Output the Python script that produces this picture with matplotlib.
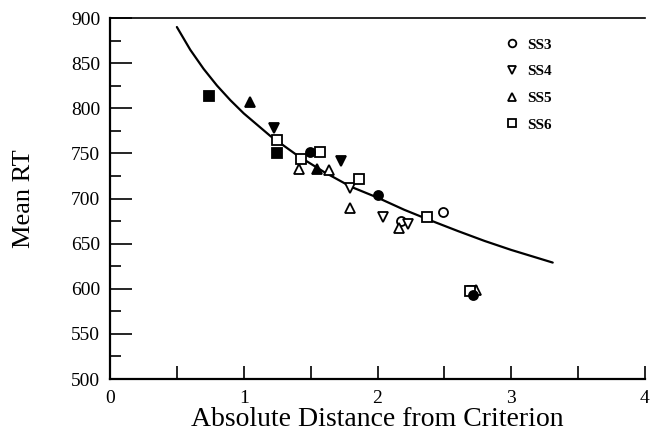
import matplotlib
matplotlib.use("Agg")
import matplotlib.pyplot as plt
from matplotlib.lines import Line2D
from matplotlib.ticker import MultipleLocator

# ---- data ----
ss3_filled_x = [1.495, 2.00, 2.714]
ss3_filled_y = [751, 704, 593]
ss3_open_x = [2.176, 2.487]
ss3_open_y = [675, 685]

ss4_filled_x = [1.224, 1.727]
ss4_filled_y = [778, 741]
ss4_open_x = [1.793, 2.043, 2.228, 2.709]
ss4_open_y = [712, 679, 672, 597]

ss5_filled_x = [1.049, 1.549]
ss5_filled_y = [807, 733]
ss5_open_x = [1.414, 1.636, 1.796, 2.159, 2.739]
ss5_open_y = [733, 732, 689, 667, 599]

ss6_filled_x = [0.74, 1.246]
ss6_filled_y = [814, 750]
ss6_open_x = [1.251, 1.425, 1.567, 1.863, 2.369, 2.689]
ss6_open_y = [765, 744, 751, 722, 679, 598]

curve_x = [0.5, 0.6, 0.7, 0.8, 0.9, 1.0, 1.2, 1.4, 1.6, 1.8, 2.0, 2.2, 2.4, 2.6, 2.8, 3.0, 3.31]
curve_y = [890, 864.8, 843.6, 825.1, 808.9, 794.3, 769.1, 747.8, 729.4, 713.1,
           701, 687.5, 675.5, 664, 653, 643, 629]

legend_labels = ["SS3", "SS4", "SS5", "SS6"]
x_ticks = [0, 1, 2, 3, 4]
y_ticks = [500, 550, 600, 650, 700, 750, 800, 850, 900]

serif = ["Liberation Serif", "DejaVu Serif"]
plt.rcParams["font.family"] = serif

W, H = 652, 436
L, R, B, T = 110, 645, 379, 18
fig = plt.figure(figsize=(W / 100, H / 100), dpi=100)
ax = fig.add_axes([L / W, 1 - B / H, (R - L) / W, (B - T) / H])

ax.plot(curve_x, curve_y, color="black", lw=1.6, zorder=2, solid_capstyle="round")

mew = 1.3
series = [
    ("o", ss3_filled_x, ss3_filled_y, ss3_open_x, ss3_open_y, 6.5),
    ("v", ss4_filled_x, ss4_filled_y, ss4_open_x, ss4_open_y, 7.5),
    ("^", ss5_filled_x, ss5_filled_y, ss5_open_x, ss5_open_y, 7.5),
    ("s", ss6_filled_x, ss6_filled_y, ss6_open_x, ss6_open_y, 7.5),
]
for m, fx, fy, ox, oy, s in series:
    ax.plot(ox, oy, ls="none", marker=m, ms=s, mfc="white", mec="black", mew=mew, zorder=3)
    ax.plot(fx, fy, ls="none", marker=m, ms=s, mfc="black", mec="black", mew=mew, zorder=4)

ax.set_xlim(0, 4)
ax.set_ylim(500, 900)
ax.set_xticks(x_ticks)
ax.set_yticks(y_ticks)
ax.xaxis.set_minor_locator(MultipleLocator(0.5))
ax.yaxis.set_minor_locator(MultipleLocator(25))

ax.tick_params(axis="x", which="both", direction="in", length=9.5, width=1.2,
               pad=8, labelsize=14, top=False)
ax.tick_params(axis="y", which="major", direction="in", length=16, width=1.2,
               pad=7, labelsize=14, right=False)
ax.tick_params(axis="y", which="minor", direction="in", length=8, width=1.2, right=False)

ax.spines["right"].set_visible(False)
for sp in ["left", "bottom"]:
    ax.spines[sp].set_linewidth(1.6)
ax.spines["top"].set_linewidth(1.2)

ax.set_xlabel("Absolute Distance from Criterion", fontsize=20, labelpad=0)
ax.set_ylabel("Mean RT", fontsize=19, labelpad=26)

handles = [Line2D([], [], ls="none", marker=m, ms=5.5, mfc="white", mec="black", mew=1.3)
           for m in ["o", "v", "^", "s"]]
leg = ax.legend(handles, legend_labels, loc="upper left",
                bbox_to_anchor=((506 - L) / (R - L), (B - 38) / (B - T)),
                frameon=False, handlelength=0.8, handletextpad=0.6,
                labelspacing=0.85, borderaxespad=0, borderpad=0,
                prop={"family": serif, "size": 11, "weight": "bold"})

fig.savefig("out.png", dpi=100)
